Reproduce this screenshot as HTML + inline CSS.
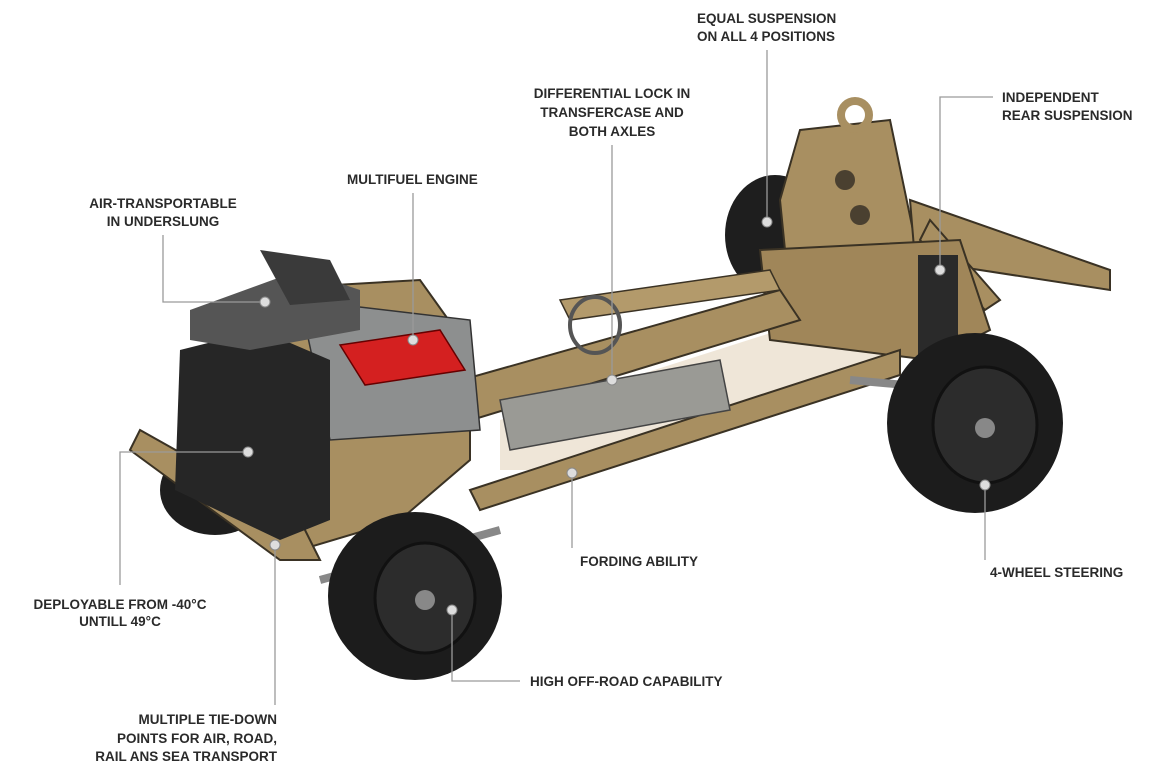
<!DOCTYPE html>
<html><head><meta charset="utf-8"><style>
html,body{margin:0;padding:0;background:#fff;}
svg{display:block}
text{font-family:"Liberation Sans",sans-serif;font-weight:bold;font-size:13.5px;fill:#2a2a2a;}
</style></head><body>
<svg width="1163" height="777" viewBox="0 0 1163 777" xmlns="http://www.w3.org/2000/svg">
<rect width="1163" height="777" fill="#fff"/>
<!-- floor panel -->
<polygon points="500,470 600,470 900,360 900,330 780,330 560,400 500,420" fill="#efe6d8"/>
<!-- back wheels -->
<ellipse cx="775" cy="235" rx="50" ry="60" fill="#1e1e1e"/>
<ellipse cx="215" cy="490" rx="55" ry="45" fill="#1e1e1e"/>
<!-- rear pyramid -->
<polygon points="800,130 890,120 915,240 905,300 790,300 780,200" fill="#a88f61" stroke="#3a3224" stroke-width="2"/>
<circle cx="855" cy="115" r="14" fill="none" stroke="#a88f61" stroke-width="8"/>
<circle cx="845" cy="180" r="10" fill="#4a4030"/>
<circle cx="860" cy="215" r="10" fill="#4a4030"/>
<!-- rear arm -->
<polygon points="910,200 1110,270 1110,290 915,260" fill="#a88f61" stroke="#3a3224" stroke-width="2"/>
<polygon points="930,220 1000,300 985,310 920,240" fill="#a88f61" stroke="#3a3224" stroke-width="2"/>
<!-- rear frame -->
<polygon points="760,250 960,240 990,330 930,360 770,340" fill="#a08659" stroke="#3a3224" stroke-width="2"/>
<!-- springs -->
<rect x="918" y="255" width="40" height="100" fill="#2a2a2a"/>
<!-- main rails -->
<polygon points="320,420 780,290 800,320 340,460" fill="#a88f61" stroke="#3a3224" stroke-width="2"/>
<polygon points="470,490 900,350 900,375 480,510" fill="#a88f61" stroke="#3a3224" stroke-width="2"/>
<polygon points="560,300 770,270 780,290 570,320" fill="#b39a6b" stroke="#3a3224" stroke-width="1.5"/>
<!-- transmission -->
<polygon points="500,400 720,360 730,410 510,450" fill="#9a9a95" stroke="#444" stroke-width="1.5"/>
<!-- front frame -->
<polygon points="250,290 420,280 470,350 470,460 400,520 300,550 260,480" fill="#a88f61" stroke="#3a3224" stroke-width="2"/>
<polygon points="140,430 300,520 320,560 280,560 130,450" fill="#a88f61" stroke="#3a3224" stroke-width="2"/>
<!-- engine block -->
<polygon points="300,300 470,320 480,430 330,440" fill="#8d8f8f" stroke="#333" stroke-width="1.5"/>
<polygon points="340,345 440,330 465,370 365,385" fill="#d42020" stroke="#600" stroke-width="1.5"/>
<!-- radiator -->
<polygon points="180,350 260,330 330,360 330,520 280,540 175,490" fill="#262626"/>
<polygon points="190,310 300,270 360,290 360,330 250,350 190,340" fill="#555"/>
<polygon points="260,250 330,260 350,300 290,305" fill="#3a3a3a"/>
<!-- steering wheel -->
<ellipse cx="595" cy="325" rx="25" ry="28" fill="none" stroke="#555" stroke-width="4"/>
<!-- axles -->
<line x1="320" y1="580" x2="500" y2="530" stroke="#888" stroke-width="8"/>
<line x1="850" y1="380" x2="960" y2="390" stroke="#888" stroke-width="8"/>
<!-- front wheel -->
<ellipse cx="415" cy="596" rx="87" ry="84" fill="#1c1c1c"/>
<ellipse cx="425" cy="598" rx="50" ry="55" fill="#2c2c2c" stroke="#111" stroke-width="3"/>
<circle cx="425" cy="600" r="10" fill="#888"/>
<!-- rear wheel -->
<ellipse cx="975" cy="423" rx="88" ry="90" fill="#1c1c1c"/>
<ellipse cx="985" cy="425" rx="52" ry="58" fill="#2c2c2c" stroke="#111" stroke-width="3"/>
<circle cx="985" cy="428" r="10" fill="#888"/>

<!-- leader lines -->
<g stroke="#9a9a9a" stroke-width="1.3" fill="none">
<polyline points="767,50 767,222"/>
<polyline points="993,97 940,97 940,270"/>
<polyline points="612,145 612,380"/>
<polyline points="413,193 413,340"/>
<polyline points="163,235 163,302 265,302"/>
<polyline points="120,585 120,452 248,452"/>
<polyline points="275,705 275,545"/>
<polyline points="572,548 572,473"/>
<polyline points="520,681 452,681 452,610"/>
<polyline points="985,560 985,485"/>
</g>
<g fill="#ddd" stroke="#888" stroke-width="1">
<circle cx="767" cy="222" r="5"/><circle cx="940" cy="270" r="5"/><circle cx="612" cy="380" r="5"/>
<circle cx="413" cy="340" r="5"/><circle cx="265" cy="302" r="5"/><circle cx="248" cy="452" r="5"/>
<circle cx="275" cy="545" r="5"/><circle cx="572" cy="473" r="5"/><circle cx="452" cy="610" r="5"/>
<circle cx="985" cy="485" r="5"/>
</g>

<!-- labels -->
<text x="697" y="23">EQUAL SUSPENSION</text>
<text x="697" y="41">ON ALL 4 POSITIONS</text>
<text x="1002" y="102">INDEPENDENT</text>
<text x="1002" y="120">REAR SUSPENSION</text>
<text x="612" y="98" text-anchor="middle">DIFFERENTIAL LOCK IN</text>
<text x="612" y="117" text-anchor="middle">TRANSFERCASE AND</text>
<text x="612" y="136" text-anchor="middle">BOTH AXLES</text>
<text x="347" y="184">MULTIFUEL ENGINE</text>
<text x="163" y="208" text-anchor="middle">AIR-TRANSPORTABLE</text>
<text x="163" y="226" text-anchor="middle">IN UNDERSLUNG</text>
<text x="120" y="609" text-anchor="middle">DEPLOYABLE FROM -40°C</text>
<text x="120" y="626" text-anchor="middle">UNTILL 49°C</text>
<text x="277" y="724" text-anchor="end">MULTIPLE TIE-DOWN</text>
<text x="277" y="743" text-anchor="end">POINTS FOR AIR, ROAD,</text>
<text x="277" y="761" text-anchor="end">RAIL ANS SEA TRANSPORT</text>
<text x="580" y="566">FORDING ABILITY</text>
<text x="530" y="686">HIGH OFF-ROAD CAPABILITY</text>
<text x="990" y="577">4-WHEEL STEERING</text>
</svg>
</body></html>
